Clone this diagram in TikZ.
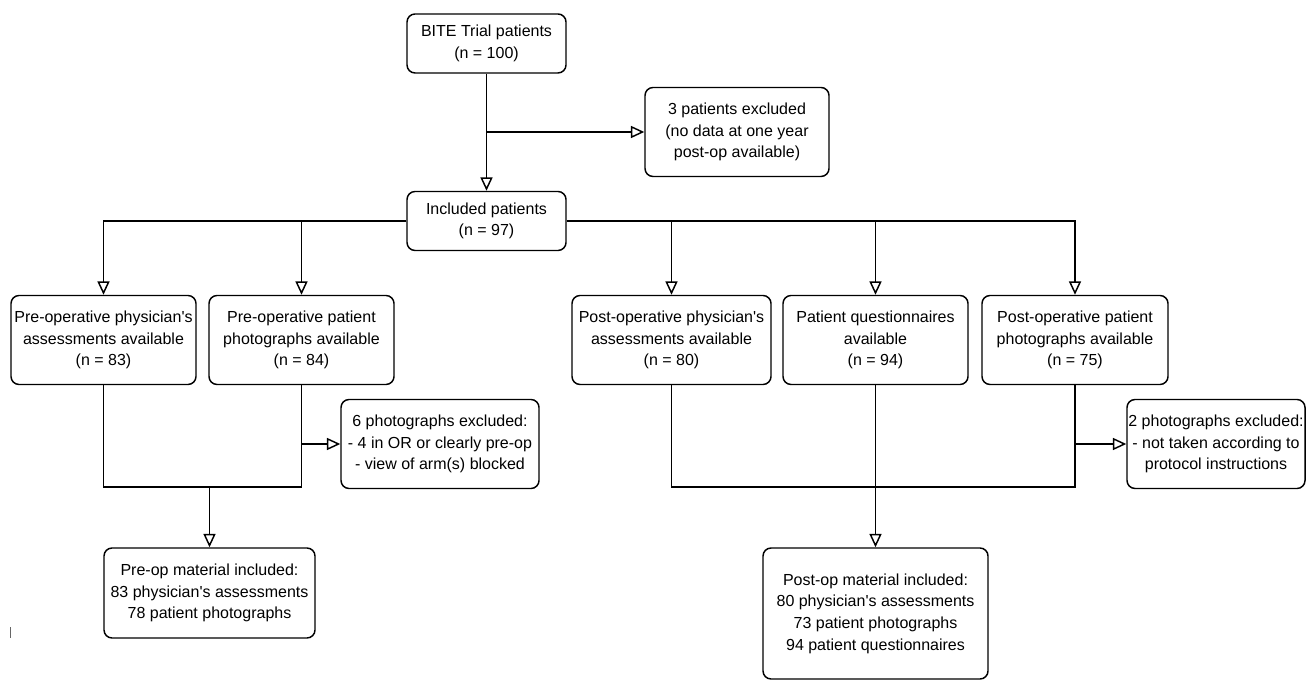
\documentclass[tikz,border=0pt]{standalone}
\usepackage{fontspec}
\setmainfont{Liberation Sans}
\usepackage{tikz}
\usetikzlibrary{arrows.meta}
\newcommand{\aps}{\textquotesingle}

\begin{document}
\begin{tikzpicture}[
    x=0.75pt, y=-0.75pt,
    font=\fontsize{12}{16.2}\selectfont,
    >={Triangle[length=10pt,width=9pt,fill=white]},
    box/.style={draw, line width=1.1pt, rounded corners=6pt, align=center,
                inner sep=1pt, minimum height=66.75pt},
    wire/.style={line width=1.1pt},
    flow/.style={->, line width=1.1pt},
  ]
  \useasboundingbox (0,0) rectangle (1306,680);

  %% ---- trial and exclusion -------------------------------------------
  \node[box, minimum width=119.25pt, minimum height=44.25pt] (bite) at (486.5,43.5)
    {BITE Trial patients\\(n = 100)};
  \node[box, minimum width=138pt] (excl3) at (737,132)
    {3 patients excluded\\(no data at one year\\post-op available)};
  \node[box, minimum width=119.25pt, minimum height=44.25pt] (incl) at (486.5,221)
    {Included patients\\(n = 97)};
  \coordinate (split) at (486.5,132);

  \draw[flow] (bite) -- (incl);
  \draw[flow] (split) -- (split -| excl3.west);

  %% ---- available material ----------------------------------------------
  \node[box, minimum width=138.75pt] (prephys) at (103.5,340)
    {Pre-operative physician\aps s\\assessments available\\(n = 83)};
  \node[box, minimum width=138.75pt] (prephoto) at (301.5,340)
    {Pre-operative patient\\photographs available\\(n = 84)};
  \node[box, minimum width=149.25pt] (postphys) at (671.5,340)
    {Post-operative physician\aps s\\assessments available\\(n = 80)};
  \node[box, minimum width=138.75pt] (quest) at (875.5,340)
    {Patient questionnaires\\available\\(n = 94)};
  \node[box, minimum width=139.5pt] (postphoto) at (1075,340)
    {Post-operative patient\\photographs available\\(n = 75)};

  \draw[flow] (incl.west) -| (prephys);
  \draw[flow] (incl.east) -| (postphoto);
  \draw[flow] (prephoto |- incl.west) -- (prephoto);
  \draw[flow] (postphys |- incl.east) -- (postphys);
  \draw[flow] (quest |- incl.east) -- (quest);

  %% ---- excluded photographs ----------------------------------------------
  \node[box, minimum width=148.5pt] (excl6) at (440,444)
    {6 photographs excluded:\\- 4 in OR or clearly pre-op\\- view of arm(s) blocked};
  \node[box, minimum width=133.5pt] (excl2) at (1216,444)
    {2 photographs excluded:\\- not taken according to\\protocol instructions};

  \draw[flow] (prephoto |- excl6.west) -- (excl6);
  \draw[flow] (postphoto |- excl2.west) -- (excl2);

  %% ---- material included -----------------------------------------------
  \node[box, minimum width=158.25pt, minimum height=67.5pt] (premat) at (209.5,593)
    {Pre-op material included:\\83 physician\aps s assessments\\78 patient photographs};
  \node[box, minimum width=168.75pt, minimum height=98.25pt] (postmat) at (875.5,613.5)
    {Post-op material included:\\80 physician\aps s assessments\\73 patient photographs\\94 patient questionnaires};

  \coordinate (prejoin) at (209.5,487);
  \coordinate (postjoin) at (875.5,487);
  \draw[wire] (prephys) |- (prejoin) -| (prephoto);
  \draw[wire] (postphys) |- (postjoin) -| (postphoto);
  \draw[wire] (quest) -- (postjoin);
  \draw[flow] (prejoin) -- (premat);
  \draw[flow] (postjoin) -- (postmat);

  \draw[black!60, line width=0.6pt] (10,627) -- (10,638);

\end{tikzpicture}
\end{document}
